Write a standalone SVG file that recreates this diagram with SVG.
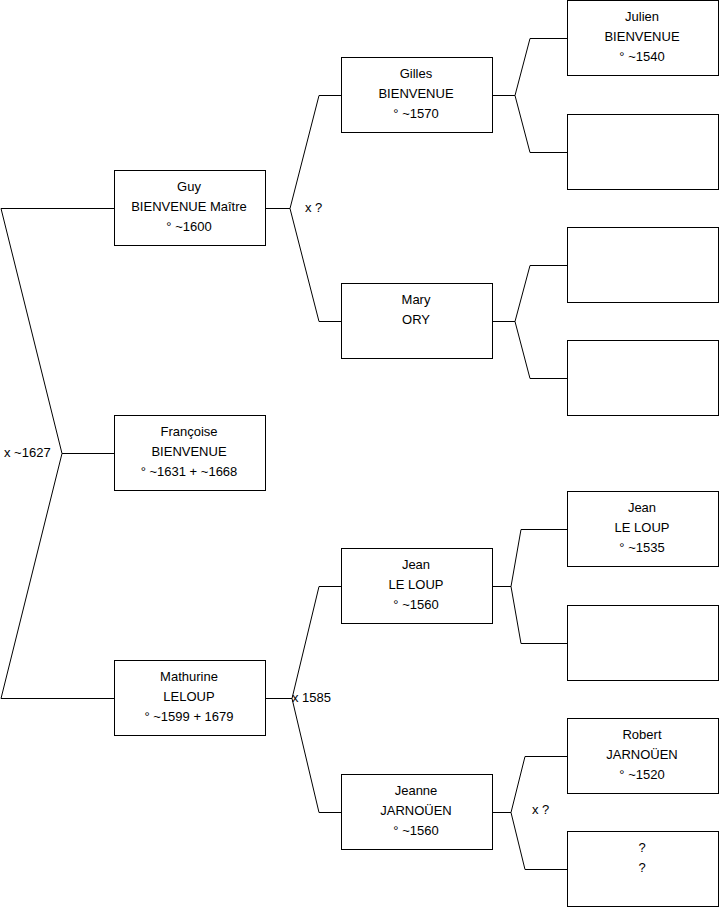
<svg xmlns="http://www.w3.org/2000/svg" width="719" height="908" viewBox="0 0 719 908">
<style>
.box{fill:#fff;stroke:#000;stroke-width:1}
.t{font-family:"Liberation Sans",Arial,sans-serif;font-size:13px;fill:#000;text-anchor:middle}
.l{font-family:"Liberation Sans",Arial,sans-serif;font-size:13px;fill:#000}
.c{fill:none;stroke:#000;stroke-width:1}
</style>
<rect width="719" height="908" fill="#fff"/>
<g id="connectors">
<polyline class="c" points="114,208.5 1,208.5 62,453.5 1,698.5 114,698.5"/>
<line class="c" x1="62" y1="453.5" x2="114" y2="453.5"/>
<polyline class="c" points="265,208.5 290,208.5 319,95.5 341,95.5"/>
<polyline class="c" points="290,208.5 319,321.5 341,321.5"/>
<polyline class="c" points="265,698.5 292,698.5 319,586.5 341,586.5"/>
<polyline class="c" points="292,698.5 319,812.5 341,812.5"/>
<polyline class="c" points="492,95.5 515,95.5 530,38.5 567,38.5"/>
<polyline class="c" points="515,95.5 530,152.5 567,152.5"/>
<polyline class="c" points="492,321.5 515,321.5 530,265.5 567,265.5"/>
<polyline class="c" points="515,321.5 530,378.5 567,378.5"/>
<polyline class="c" points="492,586.5 511,586.5 521,529.5 567,529.5"/>
<polyline class="c" points="511,586.5 521,643.5 567,643.5"/>
<polyline class="c" points="492,812.5 511,812.5 525,756.5 567,756.5"/>
<polyline class="c" points="511,812.5 525,869.5 567,869.5"/>
<text class="l" x="4" y="457">x ~1627</text>
<text class="l" x="305" y="212">x ?</text>
<text class="l" x="292" y="702">x 1585</text>
<text class="l" x="532" y="814">x ?</text>
</g>
<g id="guy"><rect class="box" x="114.5" y="170.5" width="151" height="75"/>
<text class="t" x="189" y="191">Guy</text><text class="t" x="189" y="211">BIENVENUE Maître</text><text class="t" x="189" y="231">° ~1600</text></g>
<g id="francoise"><rect class="box" x="114.5" y="415.5" width="151" height="75"/>
<text class="t" x="189" y="436">Françoise</text><text class="t" x="189" y="456">BIENVENUE</text><text class="t" x="189" y="476">° ~1631 + ~1668</text></g>
<g id="mathurine"><rect class="box" x="114.5" y="660.5" width="151" height="75"/>
<text class="t" x="189" y="681">Mathurine</text><text class="t" x="189" y="701">LELOUP</text><text class="t" x="189" y="721">° ~1599 + 1679</text></g>
<g id="gilles"><rect class="box" x="341.5" y="57.5" width="151" height="75"/>
<text class="t" x="416" y="78">Gilles</text><text class="t" x="416" y="98">BIENVENUE</text><text class="t" x="416" y="118">° ~1570</text></g>
<g id="mary"><rect class="box" x="341.5" y="283.5" width="151" height="75"/>
<text class="t" x="416" y="304">Mary</text><text class="t" x="416" y="324">ORY</text></g>
<g id="jean1"><rect class="box" x="341.5" y="548.5" width="151" height="75"/>
<text class="t" x="416" y="569">Jean</text><text class="t" x="416" y="589">LE LOUP</text><text class="t" x="416" y="609">° ~1560</text></g>
<g id="jeanne"><rect class="box" x="341.5" y="774.5" width="151" height="75"/>
<text class="t" x="416" y="795">Jeanne</text><text class="t" x="416" y="815">JARNOÜEN</text><text class="t" x="416" y="835">° ~1560</text></g>
<g id="julien"><rect class="box" x="567.5" y="0.5" width="151" height="75"/>
<text class="t" x="642" y="21">Julien</text><text class="t" x="642" y="41">BIENVENUE</text><text class="t" x="642" y="61">° ~1540</text></g>
<g id="empty1"><rect class="box" x="567.5" y="114.5" width="151" height="75"/></g>
<g id="empty2"><rect class="box" x="567.5" y="227.5" width="151" height="75"/></g>
<g id="empty3"><rect class="box" x="567.5" y="340.5" width="151" height="75"/></g>
<g id="jean2"><rect class="box" x="567.5" y="491.5" width="151" height="75"/>
<text class="t" x="642" y="512">Jean</text><text class="t" x="642" y="532">LE LOUP</text><text class="t" x="642" y="552">° ~1535</text></g>
<g id="empty4"><rect class="box" x="567.5" y="605.5" width="151" height="75"/></g>
<g id="robert"><rect class="box" x="567.5" y="718.5" width="151" height="75"/>
<text class="t" x="642" y="739">Robert</text><text class="t" x="642" y="759">JARNOÜEN</text><text class="t" x="642" y="779">° ~1520</text></g>
<g id="unknown"><rect class="box" x="567.5" y="831.5" width="151" height="75"/>
<text class="t" x="642" y="852">?</text><text class="t" x="642" y="872">?</text></g>
</svg>
